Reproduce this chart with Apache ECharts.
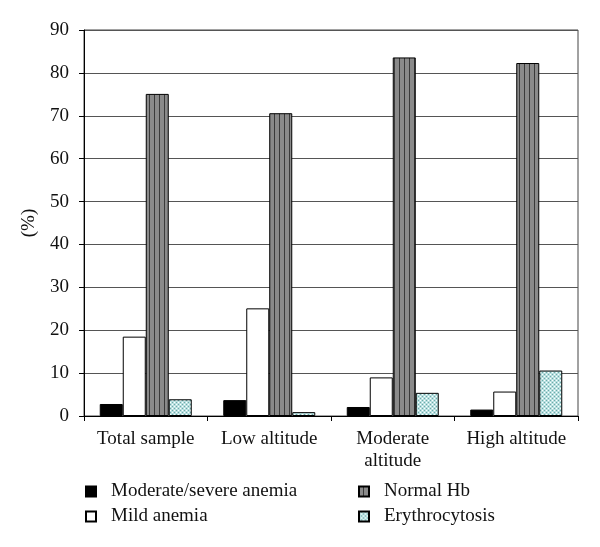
<!DOCTYPE html>
<html><head><meta charset="utf-8">
<script src="https://cdn.jsdelivr.net/npm/echarts@6/dist/echarts.min.js"></script>
<style>html,body{margin:0;padding:0;background:#fff}#c{width:600px;height:547px}</style>
</head><body><div id="c"></div>
<script>
var categories = ['Total sample', 'Low altitude', 'Moderate\naltitude', 'High altitude'];
var moderateSevere = [2.8, 3.7, 2.1, 1.5];
var mildAnemia = [18.5, 25.1, 9.0, 5.7];
var normalHb = [75.1, 70.6, 83.6, 82.3];
var erythrocytosis = [3.9, 0.9, 5.4, 10.6];
var seriesNames = ['Moderate/severe anemia', 'Mild anemia', 'Normal Hb', 'Erythrocytosis'];

function stripePattern() {
  var c = document.createElement('canvas'); c.width = 5; c.height = 4;
  var g = c.getContext('2d');
  g.fillStyle = '#8a8a8a'; g.fillRect(0, 0, 5, 4);
  g.fillStyle = '#3a3a3a'; g.fillRect(4, 0, 1, 4);
  return c;
}
function dotPattern() {
  var c = document.createElement('canvas'); c.width = 4; c.height = 4;
  var g = c.getContext('2d');
  g.fillStyle = '#b8e0e0'; g.fillRect(0, 0, 4, 4);
  g.fillStyle = '#ffffff'; g.fillRect(0, 0, 1, 1); g.fillRect(2, 2, 1, 1);
  g.fillStyle = '#70a8a8'; g.fillRect(2, 0, 1, 1); g.fillRect(0, 2, 1, 1);
  return c;
}
var font = "'Liberation Serif', 'DejaVu Serif', serif";
var fs = 19;
var chart = echarts.init(document.getElementById('c'), null, {renderer: 'canvas'});
var bw = 23;
function mk(name, data, color) {
  return {name: name, type: 'bar', data: data, barWidth: bw, barGap: '0%',
    itemStyle: {color: color, borderColor: '#000', borderWidth: 1}};
}
chart.setOption({
  animation: false,
  textStyle: {fontFamily: font},
  grid: {left: 84, right: 22, top: 30, bottom: 131, show: true, borderColor: '#444', borderWidth: 1},
  legend: [
    {data: [seriesNames[0], seriesNames[1]], orient: 'vertical', left: 80, top: 477,
     itemWidth: 10, itemHeight: 10, itemGap: 6, icon: 'rect',
     textStyle: {fontFamily: font, fontSize: fs, color: '#111', padding: [0, 0, 0, 10]}},
    {data: [seriesNames[2], seriesNames[3]], orient: 'vertical', left: 353, top: 477,
     itemWidth: 10, itemHeight: 10, itemGap: 6, icon: 'rect',
     textStyle: {fontFamily: font, fontSize: fs, color: '#111', padding: [0, 0, 0, 10]}}
  ],
  xAxis: {type: 'category', data: categories,
    axisLine: {lineStyle: {color: '#000', width: 1}},
    axisTick: {show: true, length: 5, lineStyle: {color: '#000'}},
    axisLabel: {interval: 0, fontFamily: font, fontSize: fs, color: '#111', margin: 12, lineHeight: 22}},
  yAxis: {type: 'value', min: 0, max: 90, interval: 10,
    name: '(%)', nameLocation: 'middle', nameRotate: 90, nameGap: 45,
    nameTextStyle: {fontFamily: font, fontSize: fs, color: '#111'},
    axisLine: {show: true, lineStyle: {color: '#000', width: 1}},
    axisTick: {show: true, length: 5, lineStyle: {color: '#000'}},
    axisLabel: {fontFamily: font, fontSize: fs, color: '#111', margin: 15},
    splitLine: {show: true, lineStyle: {color: '#555', width: 1}}},
  series: [
    mk(seriesNames[0], moderateSevere, '#000'),
    mk(seriesNames[1], mildAnemia, '#fff'),
    mk(seriesNames[2], normalHb, {image: stripePattern(), repeat: 'repeat'}),
    mk(seriesNames[3], erythrocytosis, {image: dotPattern(), repeat: 'repeat'})
  ]
});
</script></body></html>
